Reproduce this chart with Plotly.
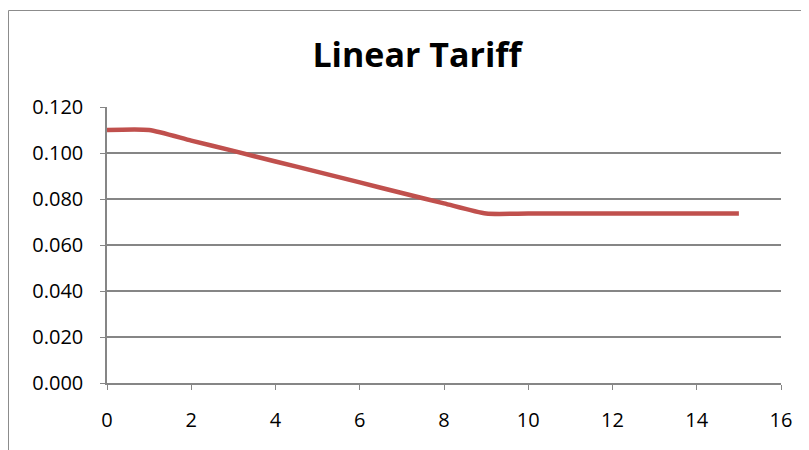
import plotly.graph_objects as go

x_values = [0, 1, 2, 3, 4, 5, 6, 7, 8, 9, 10, 11, 12, 13, 14, 15]
tariff = [0.110, 0.110, 0.1054, 0.1009, 0.0963, 0.0918, 0.0872, 0.0826,
          0.0781, 0.0737, 0.0737, 0.0737, 0.0737, 0.0737, 0.0737, 0.0737]
title_text = "Linear Tariff"
y_ticks = [0.0, 0.02, 0.04, 0.06, 0.08, 0.10, 0.12]
x_ticks = [0, 2, 4, 6, 8, 10, 12, 14, 16]

W, H = 809, 450
OFF = 8  # page body margin offset
L, T = 107 - OFF, 107 - OFF
R = W - (781 - OFF)
B = H - (383 - OFF)
pw, ph = W - L - R, H - T - B

font_fam = "Open Sans, Liberation Sans, sans-serif"

fig = go.Figure()
fig.add_trace(go.Scatter(
    x=x_values, y=tariff, mode="lines",
    line=dict(color="#C0504D", width=4.5, shape="spline", smoothing=0.6),
    showlegend=False, hoverinfo="x+y",
))

def px_to_paper_x(px):
    return (px - OFF - L) / pw

def px_to_paper_y(py):
    return (H - B - (py - OFF)) / ph

fig.add_shape(type="rect", xref="paper", yref="paper",
              x0=px_to_paper_x(8.5), x1=px_to_paper_x(840),
              y0=px_to_paper_y(480), y1=px_to_paper_y(10.5),
              line=dict(color="#8c8c8c", width=1), layer="below")

fig.update_layout(
    width=W, height=H,
    margin=dict(l=L, r=R, t=T, b=B),
    paper_bgcolor="white", plot_bgcolor="white",
    title=dict(text="<b>" + title_text + "</b>", x=(417 - OFF) / W, xanchor="center",
               y=1 - (55 - OFF) / H, yanchor="middle", xref="container", yref="container",
               font=dict(family=font_fam, size=34, color="black")),
    font=dict(family=font_fam, size=20, color="black"),
)
fig.update_xaxes(range=[0, 16], tickvals=x_ticks, showgrid=False,
                 showline=True, linecolor="#868686", linewidth=1.5,
                 ticks="outside", ticklen=5, tickcolor="#868686",
                 ticklabelstandoff=13, zeroline=False,
                 tickfont=dict(family=font_fam, size=20))
fig.update_yaxes(range=[0, 0.12], tickvals=y_ticks, tickformat=".3f",
                 showgrid=True, gridcolor="#868686", gridwidth=1.5,
                 showline=True, linecolor="#868686", linewidth=1.5,
                 ticks="outside", ticklen=5, tickcolor="#868686",
                 ticklabelstandoff=13, zeroline=False,
                 tickfont=dict(family=font_fam, size=20))

fig.write_html("out.html")
